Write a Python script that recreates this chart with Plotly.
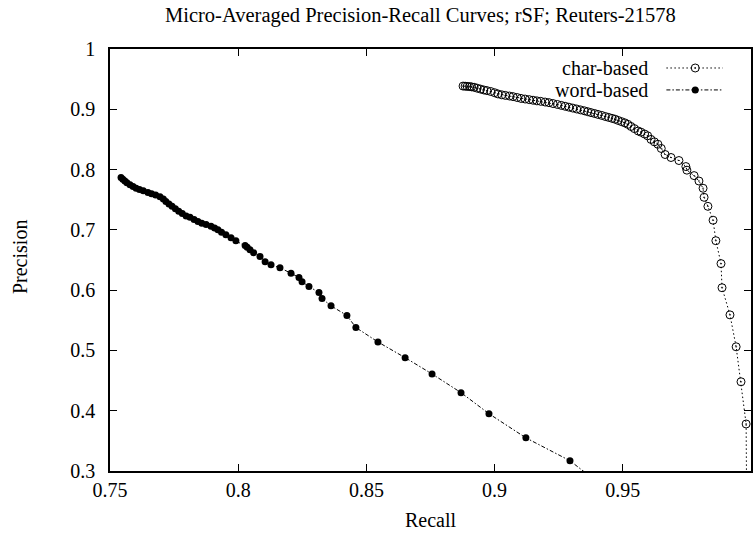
import plotly.graph_objects as go

# ---------------- data ----------------
char_recall = [0.8877, 0.8885, 0.8893, 0.8902, 0.8910, 0.8920, 0.8932, 0.8945, 0.8958, 0.8970,
               0.8985, 0.9000, 0.9013, 0.9028, 0.9042, 0.9058, 0.9072, 0.9088, 0.9103, 0.9119,
               0.9135, 0.9150, 0.9165, 0.9180, 0.9197, 0.9212, 0.9228, 0.9245, 0.9260, 0.9275,
               0.9290, 0.9305, 0.9320, 0.9335, 0.9350, 0.9363, 0.9376, 0.9390, 0.9403, 0.9418,
               0.9432, 0.9445, 0.9458, 0.9470, 0.9482, 0.9495, 0.9508, 0.9520, 0.9532, 0.9545,
               0.9560, 0.9571, 0.9585, 0.9597, 0.9610, 0.9623, 0.9637, 0.9650, 0.9665, 0.9688,
               0.9719, 0.9746, 0.9750, 0.9778, 0.9797, 0.9813, 0.9817, 0.9832, 0.9852, 0.9863,
               0.9883, 0.9887, 0.9918, 0.9942, 0.9961, 0.9981, 0.9983]
char_precision = [0.9385, 0.9383, 0.9380, 0.9377, 0.9372, 0.9365, 0.9350, 0.9335, 0.9320, 0.9310,
                  0.9295, 0.9275, 0.9255, 0.9240, 0.9230, 0.9220, 0.9210, 0.9195, 0.9180, 0.9170,
                  0.9160, 0.9150, 0.9140, 0.9132, 0.9120, 0.9110, 0.9095, 0.9080, 0.9065, 0.9050,
                  0.9035, 0.9020, 0.9005, 0.8990, 0.8975, 0.8960, 0.8945, 0.8930, 0.8915, 0.8898,
                  0.8880, 0.8865, 0.8850, 0.8835, 0.8815, 0.8795, 0.8775, 0.8750, 0.8715, 0.8680,
                  0.8640, 0.8620, 0.8590, 0.8560, 0.8500, 0.8460, 0.8420, 0.8350, 0.8250, 0.8200,
                  0.8150, 0.8050, 0.7990, 0.7900, 0.7810, 0.7690, 0.7540, 0.7390, 0.7160, 0.6820,
                  0.6440, 0.6040, 0.5590, 0.5060, 0.4480, 0.3780, 0.2500]

word_recall = [0.7543, 0.7550, 0.7558, 0.7566, 0.7578, 0.7590, 0.7602, 0.7615, 0.7630, 0.7648,
               0.7662, 0.7678, 0.7695, 0.7708, 0.7718, 0.7730, 0.7742, 0.7755, 0.7768, 0.7782,
               0.7797, 0.7812, 0.7828, 0.7843, 0.7858, 0.7875, 0.7894, 0.7908, 0.7921, 0.7935,
               0.7952, 0.7972, 0.7991, 0.8027, 0.8035, 0.8046, 0.8060, 0.8085, 0.8105, 0.8128,
               0.8163, 0.8206, 0.8237, 0.8249, 0.8276, 0.8315, 0.8327, 0.8362, 0.8424, 0.8459,
               0.8545, 0.8651, 0.8756, 0.8869, 0.8978, 0.9122, 0.9294, 0.9400]
word_precision = [0.787, 0.784, 0.781, 0.778, 0.775, 0.772, 0.769, 0.767, 0.765, 0.762,
                  0.760, 0.758, 0.755, 0.751, 0.747, 0.743, 0.739, 0.735, 0.731, 0.727,
                  0.723, 0.721, 0.717, 0.714, 0.711, 0.709, 0.706, 0.703, 0.700, 0.696,
                  0.692, 0.687, 0.682, 0.674, 0.671, 0.667, 0.662, 0.656, 0.647, 0.642,
                  0.637, 0.628, 0.621, 0.614, 0.606, 0.596, 0.586, 0.574, 0.558, 0.538,
                  0.514, 0.488, 0.461, 0.430, 0.395, 0.355, 0.317, 0.282]

x_ticks = [0.75, 0.8, 0.85, 0.9, 0.95, 1.0]
x_ticktext = ["0.75", "0.8", "0.85", "0.9", "0.95", "1"]
y_ticks = [0.3, 0.4, 0.5, 0.6, 0.7, 0.8, 0.9, 1.0]
y_ticktext = ["0.3", "0.4", "0.5", "0.6", "0.7", "0.8", "0.9", "1"]

series_names = ["char-based", "word-based"]
title_text = "Micro-Averaged Precision-Recall Curves; rSF; Reuters-21578"

# ---------------- figure ----------------
FONT = "Liberation Serif, Times New Roman, serif"
FS = 20
CHAR_DASH = "1.5px,2.5px"
WORD_DASH = "4px,2px,1.5px,2px"

fig = go.Figure()
fig.add_trace(go.Scatter(
    x=char_recall, y=char_precision, mode="lines+markers", name=series_names[0],
    line=dict(color="black", width=1, dash=CHAR_DASH),
    marker=dict(symbol="circle-open-dot", size=8, color="black", line=dict(width=1, color="black")),
    showlegend=False))
fig.add_trace(go.Scatter(
    x=word_recall, y=word_precision, mode="lines+markers", name=series_names[1],
    line=dict(color="black", width=1, dash=WORD_DASH),
    marker=dict(symbol="circle", size=7, color="black"),
    showlegend=False))

axis_common = dict(
    showgrid=False, zeroline=False, showline=True, linecolor="black", linewidth=1.5,
    mirror="allticks", ticks="inside", ticklen=7, tickwidth=1, tickcolor="black",
    tickfont=dict(family=FONT, size=FS, color="black"))

fig.update_xaxes(range=[0.75, 1.0], tickvals=x_ticks, ticktext=x_ticktext, **axis_common)
fig.update_yaxes(range=[0.3, 1.0], tickvals=y_ticks, ticktext=y_ticktext,
                 ticklabelstandoff=9, **axis_common)

annotations = [
    dict(text=title_text, xref="paper", yref="paper", x=0.484, y=1, yshift=34,
         xanchor="center", yanchor="middle", showarrow=False,
         font=dict(family=FONT, size=20.5, color="black")),
    dict(text="Recall", xref="paper", yref="paper", x=0.5, y=0, yshift=-49,
         xanchor="center", yanchor="middle", showarrow=False,
         font=dict(family=FONT, size=FS, color="black")),
    dict(text="Precision", xref="paper", yref="paper", x=0, y=0.507, xshift=-90,
         xanchor="center", yanchor="middle", textangle=-90, showarrow=False,
         font=dict(family=FONT, size=FS, color="black")),
]

# custom legend (text left of sample, gnuplot style)
leg_rows = [(0.955, CHAR_DASH), (0.903, WORD_DASH)]
shapes = []
for i, (yp, dash) in enumerate(leg_rows):
    annotations.append(dict(text=series_names[i], xref="paper", yref="paper", x=0.843, y=yp,
                            xanchor="right", yanchor="middle", showarrow=False,
                            font=dict(family=FONT, size=FS, color="black")))
    shapes.append(dict(type="line", xref="paper", yref="paper", x0=0.868, x1=0.956, y0=yp, y1=yp,
                       line=dict(color="black", width=1, dash=dash)))

fig.update_layout(
    width=755, height=540,
    margin=dict(l=110, r=2, t=49, b=69),
    paper_bgcolor="white", plot_bgcolor="white",
    annotations=annotations, shapes=shapes,
    showlegend=False,
)

# legend sample markers drawn on an overlay axis spanning the plot (0..1)
fig.update_layout(
    xaxis2=dict(overlaying="x", range=[0, 1], visible=False),
    yaxis2=dict(overlaying="y", range=[0, 1], visible=False),
)
fig.add_trace(go.Scatter(x=[0.913], y=[0.955], xaxis="x2", yaxis="y2", mode="markers",
                         marker=dict(symbol="circle-open-dot", size=8, color="black",
                                     line=dict(width=1, color="black")),
                         showlegend=False, hoverinfo="skip"))
fig.add_trace(go.Scatter(x=[0.913], y=[0.903], xaxis="x2", yaxis="y2", mode="markers",
                         marker=dict(symbol="circle", size=7, color="black"),
                         showlegend=False, hoverinfo="skip"))

fig.write_html("out.html")
